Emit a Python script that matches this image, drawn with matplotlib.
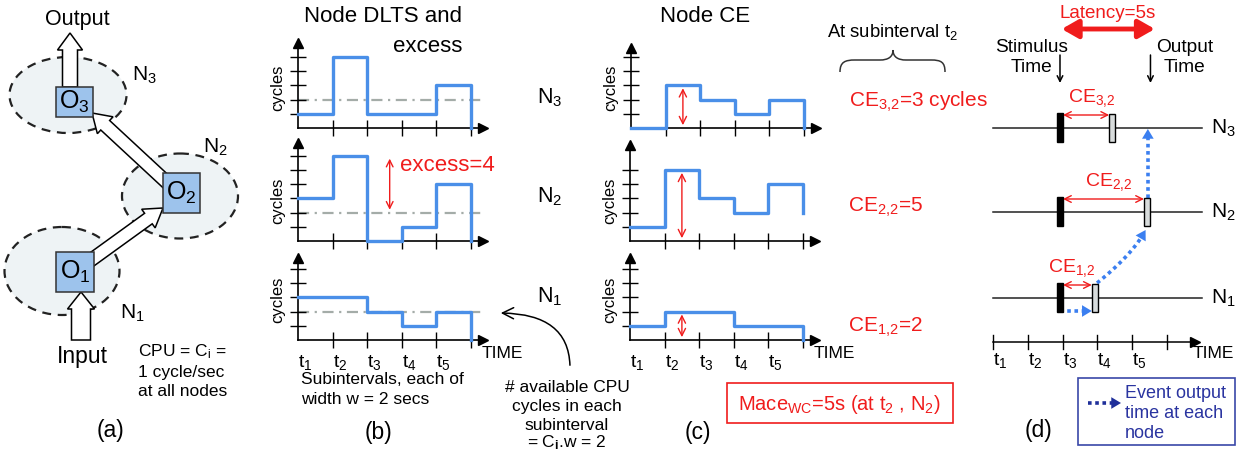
import matplotlib
matplotlib.use('Agg')
import numpy as np
import matplotlib.pyplot as plt
from matplotlib.patches import Ellipse, Rectangle, FancyArrow, FancyArrowPatch, PathPatch
from matplotlib.path import Path

plt.rcParams['font.family'] = ['Liberation Sans', 'DejaVu Sans']
plt.rcParams['mathtext.fontset'] = 'custom'
plt.rcParams['mathtext.rm'] = 'Liberation Sans'
plt.rcParams['mathtext.it'] = 'Liberation Sans:italic'
plt.rcParams['mathtext.bf'] = 'Liberation Sans:bold'

W, H = 1244, 454

# ---- data ----
subint_labels = [r'$\mathregular{t_%d}$' % i for i in range(1, 6)]
dlts_n3 = [1, 5, 1, 1, 3]
dlts_n2 = [3, 6, 0, 1, 4]
dlts_n1 = [3, 3, 2, 1, 2]
ce_n3 = [0, 3, 2, 1, 2]
ce_n2 = [1, 5, 3, 2, 4]
ce_n1 = [1, 2, 2, 1, 1]
dlts_end = [0, 0, 0]        # N3, N2, N1 after t5
ce_end = [0, 2, 0]
avail_cycles = 2            # C_i * w
subint_width = 2            # secs
cpu_rate = 1                # cycle/sec
stimulus_time = 3.85        # secs on the (d) time axis
node_names = ['N$_3$', 'N$_2$', 'N$_1$']

BLUE = '#4a8fe8'
RED = '#f01c1c'
GREY = '#a4aca8'
DBLUE = '#3b7ff0'

fig = plt.figure(figsize=(W / 100, H / 100), dpi=100)

# overlay in pixel coords
ov = fig.add_axes([0, 0, 1, 1])
ov.set_xlim(0, W)
ov.set_ylim(H, 0)
ov.axis('off')

PX_X, PX_Y = 34.6, 14.2


def mini(ox, oy, top, vals, end, nyt, labels=False):
    xmax = 5.35
    ymax = (oy - top) / PX_Y
    ax = fig.add_axes([ox / W, 1 - oy / H, xmax * PX_X / W, ymax * PX_Y / H])
    ax.patch.set_visible(False)
    ax.set_xlim(0, xmax)
    ax.set_ylim(0, ymax)
    for s in ['top', 'right']:
        ax.spines[s].set_visible(False)
    for s in ['left', 'bottom']:
        ax.spines[s].set_linewidth(1.2)
    ax.plot(1, 0, '>k', ms=7, transform=ax.transAxes, clip_on=False)
    ax.plot(0, 1, '^k', ms=7, transform=ax.transAxes, clip_on=False)
    ax.set_xticks(range(1, 6))
    ax.set_yticks(range(1, nyt + 1))
    ax.tick_params(direction='inout', length=11, width=1,
                   labelleft=False, labelbottom=False)
    xs = list(range(6)) + [5]
    ys = list(vals) + [vals[-1], end]
    ax.plot(xs, ys, drawstyle='steps-post', color=BLUE, lw=2.4, zorder=3,
            clip_on=False)
    ax.annotate('cycles', xy=(0, 2.8), xytext=(-20, 0), textcoords='offset pixels',
                rotation=90, ha='center', va='center', fontsize=12)
    if labels:
        for i, lab in enumerate(subint_labels):
            ax.annotate(lab, xy=(i, 0), xytext=(0, -22), textcoords='offset pixels',
                        ha='left', va='center', fontsize=14)
        ax.annotate('TIME', xy=(5.32, 0), xytext=(0, -13), textcoords='offset pixels',
                    ha='left', va='center', fontsize=12.5)
    return ax


def dotted_arrow(ax, pts, color, sx=1.0, hl=9.0):
    # pts in data coords of ax; sx = pixels per x unit (y is already pixels)
    pts = np.asarray(pts, float)
    px = np.column_stack([pts[:, 0] * sx, pts[:, 1]])
    d = np.r_[0, np.cumsum(np.hypot(*np.diff(px, axis=0).T))]
    target = d[-1] - hl
    j = max(int(np.searchsorted(d, target)), 1)
    frac = (target - d[j - 1]) / (d[j] - d[j - 1])
    cut = pts[j - 1] + frac * (pts[j] - pts[j - 1])
    line = np.vstack([pts[:j], cut])
    ax.plot(line[:, 0], line[:, 1], color=color, lw=2.6, ls=(0, (1, 1)))
    ax.annotate('', xy=tuple(pts[-1]), xytext=tuple(cut),
                arrowprops=dict(arrowstyle='-|>,head_length=0.7,head_width=0.42',
                                mutation_scale=10, lw=0, color=color,
                                shrinkA=0, shrinkB=0))


# ---- (b) DLTS ----
b3 = mini(298, 128, 43, dlts_n3, dlts_end[0], 5)
b2 = mini(298, 241, 143, dlts_n2, dlts_end[1], 6)
b1 = mini(298, 340, 258, dlts_n1, dlts_end[2], 5, labels=True)
for ax in (b3, b2, b1):
    ax.axhline(avail_cycles, color=GREY, lw=1.6, ls=(0, (5, 2.5, 1, 2.5)), zorder=1)
excess = max(dlts_n2) - avail_cycles
b2.annotate('', xy=(2.65, max(dlts_n2) - 0.2), xytext=(2.65, avail_cycles + 0.2),
            arrowprops=dict(arrowstyle='<->', color=RED, lw=1, shrinkA=0, shrinkB=0,
                            mutation_scale=12))
b2.text(2.95, 5.35, 'excess=%d' % excess, color=RED, fontsize=16, ha='left', va='center')

# ---- (c) CE ----
c3 = mini(631, 128, 48, ce_n3, ce_end[0], 5)
c2 = mini(630, 241, 145, ce_n2, ce_end[1], 5)
c1 = mini(630, 340, 258, ce_n1, ce_end[2], 5, labels=True)
ce_at_t2 = []
for ax, ce in zip((c3, c2, c1), (ce_n3, ce_n2, ce_n1)):
    ax.annotate('', xy=(1.5, ce[1] - 0.2), xytext=(1.5, 0.2),
                arrowprops=dict(arrowstyle='<->', color=RED, lw=1, shrinkA=0, shrinkB=0,
                                mutation_scale=13))
    ce_at_t2.append(ce[1])

ov.text(849, 102, 'CE$_{3{,}2}$=%d cycles' % ce_at_t2[0], color=RED, fontsize=15, va='center')
ov.text(848, 207, 'CE$_{2{,}2}$=%d' % ce_at_t2[1], color=RED, fontsize=15, va='center')
ov.text(848, 327, 'CE$_{1{,}2}$=%d' % ce_at_t2[2], color=RED, fontsize=15, va='center')
for y, nm in zip((98, 197, 297), node_names):
    ov.text(537, y, nm, fontsize=15.5, va='center')

ov.text(383, 17, 'Node DLTS and', fontsize=16, ha='center', va='center')
ov.text(428, 46, 'excess', fontsize=16, ha='center', va='center')
ov.text(705, 17, 'Node CE', fontsize=16, ha='center', va='center')
ov.text(893, 32, r'At subinterval $\mathregular{t_2}$', fontsize=13.3, ha='center', va='center')
brace = Path([(840, 72), (840, 62), (845, 60), (855, 60), (880, 60),
              (888, 60), (893, 57), (893, 50), (893, 57), (898, 60), (906, 60),
              (931, 60), (941, 60), (945, 62), (945, 72)],
             [Path.MOVETO, Path.CURVE4, Path.CURVE4, Path.CURVE4, Path.LINETO,
              Path.CURVE4, Path.CURVE4, Path.CURVE4, Path.CURVE4, Path.CURVE4, Path.CURVE4,
              Path.LINETO, Path.CURVE4, Path.CURVE4, Path.CURVE4])
ov.add_patch(PathPatch(brace, fill=False, ec='#333333', lw=1.1))

ov.add_patch(Rectangle((727, 383), 226, 40, fill=False, ec=RED, lw=1.2))
ov.text(738, 405, r'Mace$_{\mathrm{WC}}$=%ds (at $\mathregular{t_2}$ , N$_2$)' % (ce_at_t2[1] * cpu_rate),
        color=RED, fontsize=14.5, va='center')

ov.text(301, 380, 'Subintervals, each of', fontsize=12.5, va='center')
ov.text(301, 400, 'width w = %d secs' % subint_width, fontsize=12.5, va='center')

for y, line in zip((387, 406, 425, 443),
                   ['# available CPU', 'cycles in each', 'subinterval',
                    r'= C$_{\mathbf{i}}$.w = %d' % avail_cycles]):
    ov.text(567, y, line, fontsize=12.5, ha='center', va='center')
ov.add_patch(FancyArrowPatch((570, 368), (498, 313),
                             connectionstyle='angle3,angleA=90,angleB=0',
                             arrowstyle='->,head_length=8,head_width=4', color='black', lw=1.1))

# ---- (a) ----
for (cx, cy, w, h) in [(68, 95, 117, 76), (180, 196, 116, 85), (62, 271, 115, 88)]:
    ov.add_patch(Ellipse((cx, cy), w, h, fc='#eef3f5', ec='#222222', lw=1.6,
                         ls=(0, (4, 3)), zorder=1))
arrow_kw = dict(length_includes_head=True, fc='white', ec='black', lw=1.1, zorder=3)
ov.add_patch(FancyArrow(70, 87, 0, -54, width=15, head_width=25, head_length=17, **arrow_kw))
ov.add_patch(FancyArrow(81, 340, 0, -48, width=19, head_width=27, head_length=17, **arrow_kw))
ov.add_patch(FancyArrow(80, 268, 83, -60, width=13, head_width=23, head_length=18, **arrow_kw))
ov.add_patch(FancyArrow(175, 190, -83, -77, width=13, head_width=23, head_length=18, **arrow_kw))
for (x0, y0, x1, y1), lab in zip([(56, 87, 93, 117), (163, 173, 200, 213), (56, 252, 94, 292)],
                                 ['O$_3$', 'O$_2$', 'O$_1$']):
    ov.add_patch(Rectangle((x0, y0), x1 - x0, y1 - y0, fc='#9dc3ec', ec='#333333', lw=1.1, zorder=4))
    ov.text((x0 + x1) / 2, (y0 + y1) / 2, lab, fontsize=18, ha='center', va='center', zorder=5)
ov.text(77, 20, 'Output', fontsize=15.5, ha='center', va='center')
ov.text(82, 357, 'Input', fontsize=16.5, ha='center', va='center')
ov.text(132, 75, 'N$_3$', fontsize=15, va='center')
ov.text(203, 147, 'N$_2$', fontsize=15, va='center')
ov.text(120, 313, 'N$_1$', fontsize=15, va='center')
for y, line in zip((352, 372, 391), [r'CPU = C$_\mathrm{i}$ =', '%d cycle/sec' % cpu_rate, 'at all nodes']):
    ov.text(138, y, line, fontsize=12.5, va='center')

for x, y, lab in [(110, 430, '(a)'), (378, 433, '(b)'), (698, 432, '(c)'), (1038, 430, '(d)')]:
    ov.text(x, y, lab, fontsize=16.5, ha='center', va='center')

# ---- (d) ----
SEC_PX = 17.4
D_X0 = 993
axd = fig.add_axes([980 / W, 0, 264 / W, 1])
axd.patch.set_visible(False)
axd.set_xlim((980 - D_X0) / SEC_PX, (1244 - D_X0) / SEC_PX)
axd.set_ylim(H, 0)
axd.axis('off')

row_y = [128, 212, 298]          # N3, N2, N1
ce_secs = [c / cpu_rate for c in ce_at_t2]
out_times = [stimulus_time + c for c in ce_secs]
label_shift = [0.3, 0.3, -0.35]
BW = 0.35

for i, (y, nm) in enumerate(zip(row_y, node_names)):
    axd.plot([0, 12.0], [y, y], color='#222222', lw=1.1)
    axd.text(12.55, y, nm, fontsize=15, va='center')
    axd.add_patch(Rectangle((stimulus_time - BW / 2, y - 15), BW, 29, fc='black', ec='black', zorder=3))
    axd.add_patch(Rectangle((out_times[i] - BW / 2, y - 14), BW, 28, fc='#d8dcdc',
                            ec='black', lw=1, zorder=3))
    axd.annotate('', xy=(out_times[i] - BW / 2, y - 13), xytext=(stimulus_time + BW / 2, y - 13),
                 arrowprops=dict(arrowstyle='<->', color=RED, lw=1, shrinkA=0, shrinkB=0,
                                 mutation_scale=12))
    axd.text((stimulus_time + out_times[i]) / 2 + label_shift[i], y - 30,
             'CE$_{%d{,}2}$' % (3 - i), color=RED, fontsize=14, ha='center', va='center')

# timeline
axd.plot([0, 11.6], [342, 342], color='black', lw=1.1)
axd.plot(11.6, 342, '>k', ms=7)
for k in range(6):
    axd.plot([k * subint_width] * 2, [335, 349], color='black', lw=1)
for k, lab in enumerate(subint_labels):
    axd.text(k * subint_width, 360, lab, fontsize=14, ha='left', va='center')
axd.text(11.5, 353, 'TIME', fontsize=12.5, ha='left', va='center')

# event propagation (x in secs, y in pixels)
dotted_arrow(axd, [(stimulus_time, row_y[2] + 13), (out_times[2] - BW / 2, row_y[2] + 13)],
             DBLUE, SEC_PX)
p0 = np.array([out_times[2] + 0.13, row_y[2] - 15])
p1 = np.array([out_times[1] - 0.8, row_y[2] - 44])
p2 = np.array([out_times[1] - 0.08, row_y[1] + 18])
tt = np.linspace(0, 1, 60)[:, None]
curve = (1 - tt) ** 2 * p0 + 2 * (1 - tt) * tt * p1 + tt ** 2 * p2
dotted_arrow(axd, curve, DBLUE, SEC_PX)
dotted_arrow(axd, [(out_times[1] + 0.05, row_y[1] - 14), (out_times[1] + 0.05, row_y[0] + 1)],
             DBLUE, SEC_PX)

# latency
latency = max(out_times) - stimulus_time
axd.annotate('', xy=(max(out_times) + 0.45, 29), xytext=(stimulus_time + 0.1, 29),
             arrowprops=dict(arrowstyle='<|-|>,head_length=0.7,head_width=0.4', color=RED, lw=3.5,
                             shrinkA=0, shrinkB=0, mutation_scale=14))
axd.text((stimulus_time + max(out_times)) / 2 + 0.25, 13, 'Latency=%ds' % latency, color=RED,
         fontsize=13.5, ha='center', va='center')
axd.text(2.2, 47, 'Stimulus', fontsize=13.8, ha='center', va='center')
axd.text(2.2, 68, 'Time', fontsize=13.8, ha='center', va='center')
axd.text(11.0, 47, 'Output', fontsize=13.8, ha='center', va='center')
axd.text(11.0, 68, 'Time', fontsize=13.8, ha='center', va='center')
axd.annotate('', xy=(stimulus_time, 83), xytext=(stimulus_time, 55),
             arrowprops=dict(arrowstyle='->', color='black', lw=1.1, shrinkA=0, shrinkB=0))
axd.annotate('', xy=(max(out_times) + 0.2, 83), xytext=(max(out_times) + 0.2, 55),
             arrowprops=dict(arrowstyle='->', color='black', lw=1.1, shrinkA=0, shrinkB=0))

# legend box
ov.add_patch(Rectangle((1078, 378), 157, 67, fill=False, ec='#3a48a8', lw=1.2))
dotted_arrow(ov, [(1088, 403), (1121, 403)], '#1f2f9a')
for y, line in zip((393, 413, 433), ['Event output', 'time at each', 'node']):
    ov.text(1125, y, line, fontsize=13, color='#2a34a0', va='center')

fig.savefig('out.png', dpi=100)
